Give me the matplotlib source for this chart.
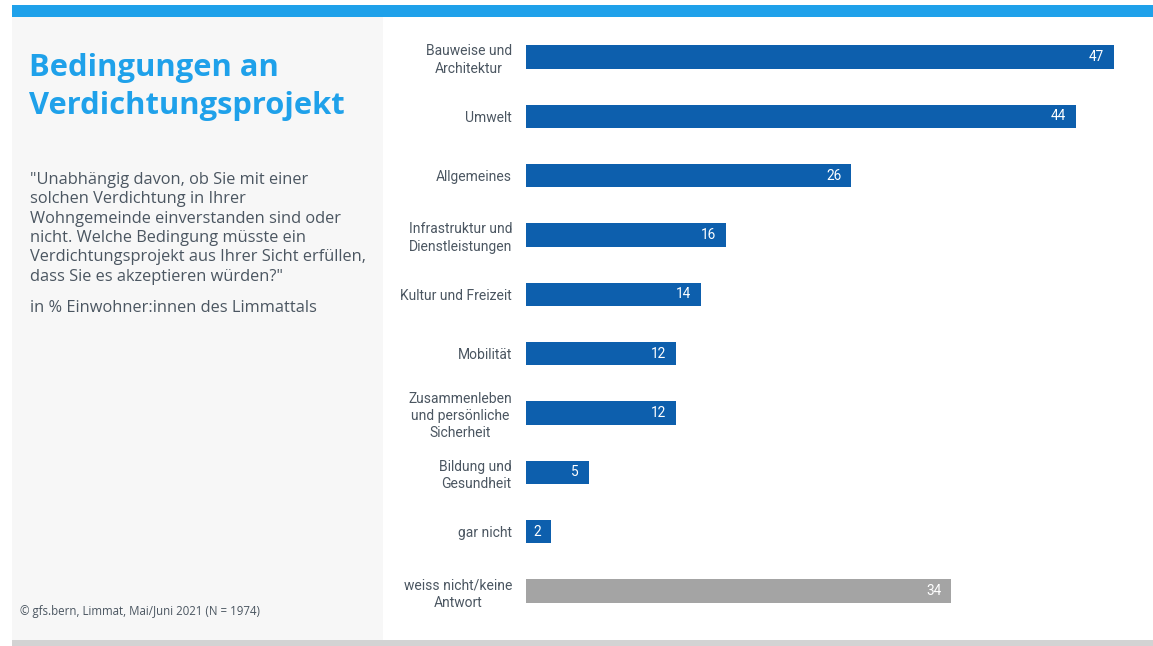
import matplotlib.pyplot as plt
from matplotlib.patches import Rectangle

# Antworten (in %)
categories = [
    "Bauweise und\nArchitektur",
    "Umwelt",
    "Allgemeines",
    "Infrastruktur und\nDienstleistungen",
    "Kultur und Freizeit",
    "Mobilität",
    "Zusammenleben\nund persönliche\nSicherheit",
    "Bildung und\nGesundheit",
    "gar nicht",
    "weiss nicht/keine\nAntwort",
]
values = [47, 44, 26, 16, 14, 12, 12, 5, 2, 34]
is_unknown = [False] * 9 + [True]

BLUE = "#0d5fad"
GREY = "#a4a4a4"
TITLE_BLUE = "#1fa1ea"
TEXT = "#4b5661"

plt.rcParams["font.family"] = ["Roboto", "DejaVu Sans"]

W, H = 1153, 646
fig = plt.figure(figsize=(W / 100, H / 100), dpi=100)
fig.patch.set_facecolor("white")


def px(x, y, w, h):
    # Pixelrechteck (von oben gemessen) in Figurkoordinaten
    return (x / W, 1 - (y + h) / H, w / W, h / H)


# Rahmen: blauer Balken oben, graues Seitenpanel, grauer Streifen unten
for (x, y, w, h), c in [
    ((12, 5, 1141, 12), "#1fa1ea"),
    ((12, 17, 371, 623), "#f7f7f7"),
    ((12, 640, 1141, 6), "#d3d3d3"),
]:
    bx, by, bw, bh = px(x, y, w, h)
    fig.patches.append(Rectangle((bx, by), bw, bh, transform=fig.transFigure,
                                 facecolor=c, edgecolor="none", zorder=0))

side_font = ["Open Sans", "DejaVu Sans"]
fig.text(29 / W, 1 - 53 / H, "Bedingungen an\nVerdichtungsprojekt",
         fontsize=22.2, fontweight="bold", color=TITLE_BLUE, va="top",
         linespacing=1.33, family=side_font)
fig.text(30 / W, 1 - 172 / H,
         '"Unabhängig davon, ob Sie mit einer\n'
         "solchen Verdichtung in Ihrer\n"
         "Wohngemeinde einverstanden sind oder\n"
         "nicht. Welche Bedingung müsste ein\n"
         "Verdichtungsprojekt aus Ihrer Sicht erfüllen,\n"
         'dass Sie es akzeptieren würden?"',
         fontsize=11.8, color=TEXT, va="top", linespacing=1.28, family=side_font)
fig.text(30 / W, 1 - 300 / H, "in % Einwohner:innen des Limmattals",
         fontsize=11.8, color=TEXT, va="top", family=side_font)
fig.text(20 / W, 1 - 612 / H, "© gfs.bern, Limmat, Mai/Juni 2021 (N = 1974)",
         fontsize=8.3, color=TEXT, va="center", family=side_font)

# Balkendiagramm
ax = fig.add_axes(px(526, 27.3, 625, 593.4))
ax.set_facecolor("none")
ypos = list(range(len(values)))
colors = [GREY if u else BLUE for u in is_unknown]
ax.barh(ypos, values, height=0.39, color=colors, edgecolor="none")
ax.set_xlim(0, 50)
ax.set_ylim(len(values) - 0.5, -0.5)

for y, v in zip(ypos, values):
    ax.annotate(str(v), (v, y), xytext=(-7, 0), textcoords="offset points",
                ha="right", va="center", color="white", fontsize=9.8)

ax.set_yticks(ypos)
ax.set_yticklabels(categories, fontsize=10, color=TEXT, multialignment="center",
                   linespacing=1.3)
ax.tick_params(axis="y", length=0, pad=10)
ax.set_xticks([])
for s in ax.spines.values():
    s.set_visible(False)

fig.savefig("out.png", dpi=100)
